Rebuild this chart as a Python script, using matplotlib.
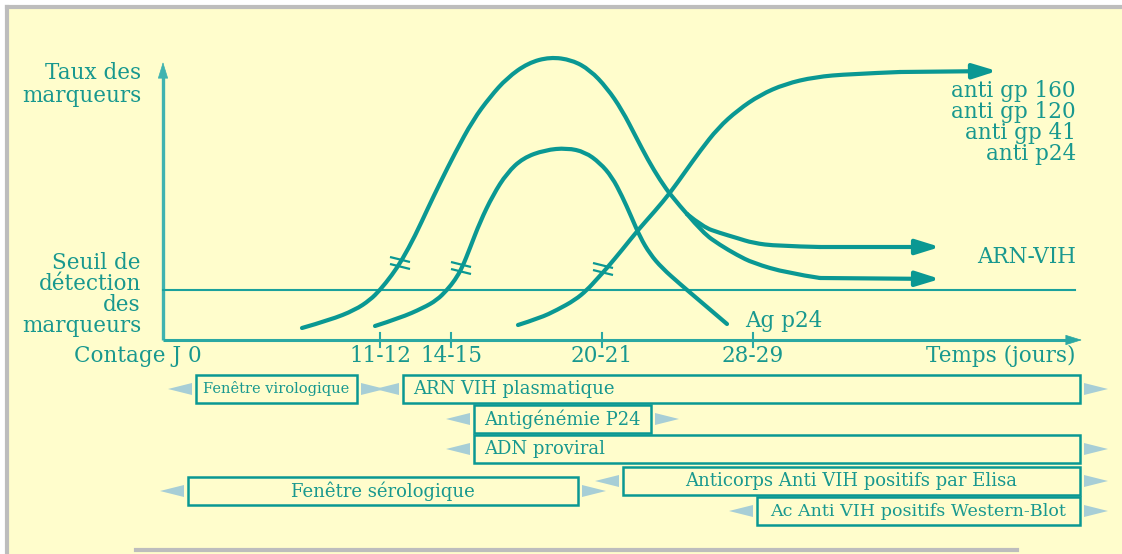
import numpy as np
import matplotlib
matplotlib.use("Agg")
import matplotlib.pyplot as plt
from matplotlib.patches import Rectangle, Polygon, FancyArrowPatch, PathPatch
from matplotlib.path import Path

# diagram units: 1 unit = 1 pixel of the 1122x554 picture, y grows downward
TEAL = "#0a9893"
TEXT = "#18988f"
PALE = "#a7ced6"
BG = "#fffdcc"

# curves (x, y)
arn_x = [302, 330, 355, 370, 380, 392, 402, 415, 428, 440, 455, 473, 490, 507, 528,
         550, 572, 590, 607, 622, 636, 648, 660, 672, 687]
arn_y = [328, 320, 310, 300, 290, 275, 260, 236, 208, 183, 153, 120, 97, 78, 63,
         57, 60, 70, 88, 110, 137, 160, 180, 197, 214]
arn_hi_x = [687, 703, 720, 737, 753, 777, 820, 940]
arn_hi_y = [214, 227, 233, 238, 243, 246, 247, 247]
arn_lo_x = [687, 703, 720, 737, 753, 787, 820, 940]
arn_lo_y = [214, 233, 245, 255, 263, 273, 278, 279]

p24_x = [375, 400, 423, 437, 447, 455, 462, 470, 480, 493, 507, 523, 545, 567, 585,
         600, 612, 622, 631, 640, 650, 662, 680, 700, 727]
p24_y = [326, 318, 308, 300, 290, 280, 268, 248, 222, 195, 173, 158, 150, 148, 152,
         163, 177, 196, 216, 237, 254, 268, 284, 301, 324]

ac_x = [518, 540, 557, 575, 587, 597, 607, 622, 638, 655, 670, 685, 700, 718, 738,
        760, 785, 815, 850, 900, 997]
ac_y = [325, 318, 310, 300, 290, 279, 268, 250, 230, 211, 193, 172, 151, 128, 110,
        95, 84, 77, 74, 72, 71]

# hatch marks where curves pass the threshold
hatch_x = [400, 461, 603]
hatch_y = [263, 268, 269]

# time axis
tick_pos = [380, 451, 602, 753]
tick_labels = ["11-12", "14-15", "20-21", "28-29"]

# test windows: label, start, end, top
box_labels = ["Fenêtre virologique", "ARN VIH plasmatique", "Antigénémie P24",
              "ADN proviral", "Fenêtre sérologique",
              "Anticorps Anti VIH positifs par Elisa",
              "Ac Anti VIH positifs Western-Blot"]
box_start = [196, 403, 474, 474, 188, 623, 757]
box_end = [357, 1080, 651, 1080, 578, 1080, 1080]
box_top = [375, 375, 405, 435, 477, 467, 497]
box_centered = [True, False, False, False, True, True, True]
box_fsize = [10.5, 13, 13, 13, 13, 13, 12.6]

antibody_labels = ["anti gp 160", "anti gp 120", "anti gp 41", "anti p24"]

fig = plt.figure(figsize=(11.22, 5.54), dpi=100)
ax = fig.add_axes([0, 0, 1, 1])
ax.set_xlim(0, 1122)
ax.set_ylim(554, 0)
ax.axis("off")

# page background and grey frame
ax.add_patch(Rectangle((7, 7), 1120, 550, facecolor=BG, edgecolor="none", zorder=0))
ax.plot([7, 1122], [7, 7], color="#bdbdbd", lw=3, zorder=1)
ax.plot([7, 7], [7, 554], color="#bdbdbd", lw=3, zorder=1)
ax.plot([136, 1017], [550, 550], color="#bdbdbd", lw=3, zorder=1)

font = "DejaVu Serif"


def arrow(x0, y0, x1, y1, lw, scale, color=TEAL):
    ax.add_patch(FancyArrowPatch((x0, y0), (x1, y1),
                                 arrowstyle="-|>,head_length=0.9,head_width=0.28",
                                 mutation_scale=scale, color=color, lw=lw,
                                 shrinkA=0, shrinkB=0, zorder=3))


def smooth(xs, ys, lw=3.0):
    # quadratic bezier through midpoints, read points act as control points
    pts = np.column_stack([xs, ys]).astype(float)
    verts = [pts[0]]
    codes = [Path.MOVETO]
    for i in range(1, len(pts) - 1):
        end = pts[i + 1] if i == len(pts) - 2 else (pts[i] + pts[i + 1]) / 2
        verts += [pts[i], end]
        codes += [Path.CURVE3, Path.CURVE3]
    if len(pts) == 2:
        verts.append(pts[1])
        codes.append(Path.LINETO)
    ax.add_patch(PathPatch(Path(verts, codes), facecolor="none", edgecolor=TEAL,
                           lw=lw, capstyle="round", joinstyle="round", zorder=4))


# axes
ax.plot([163, 163], [340, 70], color="#3fb3b0", lw=2.4, solid_capstyle="butt", zorder=2)
arrow(163, 72, 163, 62, 0.5, 12, "#3fb3b0")
ax.plot([163, 1072], [340, 340], color="#2aa8a3", lw=2.2, solid_capstyle="butt", zorder=2)
arrow(1070, 340, 1082, 340, 0.5, 12, "#2aa8a3")
ax.plot([163, 1075], [290, 290], color="#1aa19c", lw=1.5, zorder=2)
for t in tick_pos:
    ax.plot([t, t], [333, 347], color="#2aa8a3", lw=1.5, zorder=2)

# curves
smooth(arn_x, arn_y)
smooth(arn_hi_x[:-1], arn_hi_y[:-1])
smooth(arn_lo_x[:-1], arn_lo_y[:-1])
smooth(p24_x, p24_y)
smooth(ac_x[:-1], ac_y[:-1])
for xs, ys in [(arn_hi_x, arn_hi_y), (arn_lo_x, arn_lo_y), (ac_x, ac_y)]:
    arrow(xs[-2], ys[-2], xs[-1], ys[-1], 3.0, 16)

for hx, hy in zip(hatch_x, hatch_y):
    for dy in (-3.5, 3.5):
        ax.plot([hx - 10, hx + 10], [hy + dy - 2.5, hy + dy + 2.5], color=TEAL,
                lw=1.6, solid_capstyle="butt", zorder=5)

# texts
tk = dict(color=TEXT, family=font, fontsize=15.5, zorder=6)
ax.text(141, 73, "Taux des", ha="right", va="center", **tk)
ax.text(141, 96, "marqueurs", ha="right", va="center", **tk)
for i, s in enumerate(["Seuil de", "détection", "des", "marqueurs"]):
    ax.text(141, 263 + i * 21, s, ha="right", va="center", **tk)
ax.text(138, 356, "Contage J 0", ha="center", va="center", **tk)
for t, lab in zip(tick_pos, tick_labels):
    ax.text(t, 356, lab, ha="center", va="center", **tk)
ax.text(1076, 356, "Temps (jours)", ha="right", va="center", **tk)
for i, s in enumerate(antibody_labels):
    ax.text(1076, 91 + i * 21, s, ha="right", va="center", **tk)
ax.text(1076, 257, "ARN-VIH", ha="right", va="center", **tk)
ax.text(745, 321, "Ag p24", ha="left", va="center", **tk)

# test windows with their arrows
for lab, x0, x1, top, cen, fs in zip(box_labels, box_start, box_end, box_top,
                                     box_centered, box_fsize):
    h = 28
    ax.add_patch(Rectangle((x0, top), x1 - x0, h, facecolor="none",
                           edgecolor=TEAL, lw=1.8, zorder=5))
    cy = top + h / 2
    ax.add_patch(Polygon([[x0 - 4, cy - 6], [x0 - 4, cy + 6], [x0 - 28, cy]],
                         closed=True, facecolor=PALE, edgecolor="none", zorder=4))
    ax.add_patch(Polygon([[x1 + 4, cy - 6], [x1 + 4, cy + 6], [x1 + 28, cy]],
                         closed=True, facecolor=PALE, edgecolor="none", zorder=4))
    if cen:
        ax.text((x0 + x1) / 2, cy, lab, ha="center", va="center", color=TEXT,
                family=font, fontsize=fs, zorder=6)
    else:
        ax.text(x0 + 10, cy, lab, ha="left", va="center", color=TEXT,
                family=font, fontsize=fs, zorder=6)

fig.savefig("out.png", dpi=100, facecolor="white")
